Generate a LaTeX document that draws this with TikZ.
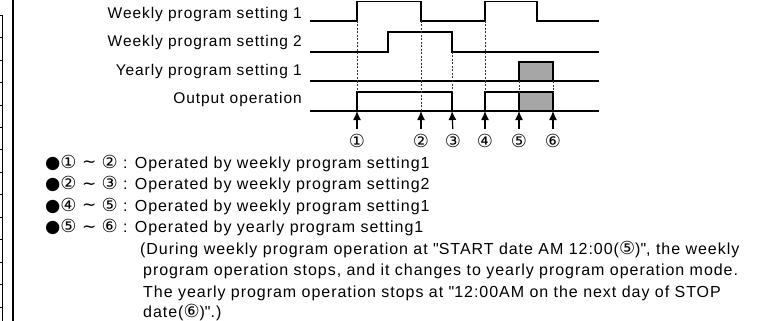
\documentclass[tikz,border=0pt]{standalone}
\usepackage{fontspec}
\setmainfont{Liberation Sans}[LetterSpace=6]
\newfontfamily\symfont{DejaVu Sans}
\usetikzlibrary{arrows.meta}

\newcommand{\cnum}[1]{{\symfont\fontsize{18}{18}\selectfont #1}}
\newcommand{\dotmark}{{\symfont\fontsize{17.5}{18}\selectfont ●}}
\newcommand{\wave}{\ {\symfont\fontsize{17}{18}\selectfont\raisebox{0.5pt}{∼}}\ }

\tikzset{
  sig/.style={line width=1.3pt, line join=miter},
  guide/.style={dash pattern=on 2pt off 1.5pt, line width=0.9pt, black!80},
  tickarrow/.style={-{Latex[length=9pt,width=8pt]}, line width=1.2pt, shorten <=5pt},
  txt/.style={font=\fontsize{15.5}{17}\selectfont, inner sep=0pt},
  note/.style={font=\fontsize{16}{17}\selectfont, inner sep=0pt, anchor=base west}
}

\begin{document}
\begin{tikzpicture}[x=1pt,y=-1pt]
  \useasboundingbox (0,0) rectangle (763,321);

  % left margin of the page
  \draw[line width=0.6pt] (2,15) -- (2,321);
  \foreach \y in {15,37,60,82,105,127,149,172,194,217,239,262,284,307}
    \draw[line width=0.6pt] (0,\y) -- (2,\y);
  \draw[line width=2pt] (13,0) -- (13,321);

  % signal names
  \begin{scope}[every node/.style={txt, anchor=base east}]
    \node (w1)  at (302,18.5) {Weekly program setting 1};
    \node (w2)  at (302,47)   {Weekly program setting 2};
    \node (y1)  at (302,75)   {Yearly program setting 1};
    \node (out) at (302,103)  {Output operation};
  \end{scope}

  % time points
  \coordinate (p1) at (357,111);
  \coordinate (p2) at (421,111);
  \coordinate (p3) at (452,111);
  \coordinate (p4) at (485,111);
  \coordinate (p5) at (519,111);
  \coordinate (p6) at (553,111);

  % shaded yearly parts
  \filldraw[sig, fill=black!35] (519,81) -- (519,62) -- (553,62) -- (553,81);
  \filldraw[sig, fill=black!35] (519,111) -- (519,92) -- (553,92) -- (553,111);

  % waveforms
  \draw[sig] (310,21) -- (357,21) -- (357,1.5) -- (421,1.5) -- (421,21) -- (485,21)
    -- (485,1.5) -- (537,1.5) -- (537,21) -- (599,21);
  \draw[sig] (310,52) -- (388,52) -- (388,32) -- (452,32) -- (452,52) -- (599,52);
  \draw[sig] (310,81) -- (599,81);
  \draw[sig] (310,111) -- (599,111);
  \draw[sig] (357,111) -- (357,92) -- (452,92) -- (452,111);
  \draw[sig] (485,111) -- (485,92) -- (519,92);

  % dotted guides
  \draw[guide] (357,21) -- (357,92);
  \draw[guide] (421,21) -- (p2);
  \draw[guide] (452,52) -- (452,92);
  \draw[guide] (485,21) -- (485,92);
  \draw[guide] (519,81) -- (519,92);
  \draw[guide] (553,81) -- (553,92);

  % numbered marks
  \begin{scope}[every node/.style={txt}]
    \node (c1) at (357,141) {\cnum{①}};
    \node (c2) at (421,141) {\cnum{②}};
    \node (c3) at (453,141) {\cnum{③}};
    \node (c4) at (485,141) {\cnum{④}};
    \node (c5) at (519,141) {\cnum{⑤}};
    \node (c6) at (553,141) {\cnum{⑥}};
  \end{scope}
  \foreach \i in {1,...,6}
    \draw[tickarrow] (c\i.north) -- (p\i);

  % notes
  \begin{scope}[every node/.style={note}]
    \node (n1) at (45,168)   {\dotmark\cnum{①}\wave\cnum{②} : Operated by weekly program setting1};
    \node (n2) at (45,189.5) {\dotmark\cnum{②}\wave\cnum{③} : Operated by weekly program setting2};
    \node (n3) at (45,211)   {\dotmark\cnum{④}\wave\cnum{⑤} : Operated by weekly program setting1};
    \node (n4) at (45,232.5) {\dotmark\cnum{⑤}\wave\cnum{⑥} : Operated by yearly program setting1};
    \node (n5) at (140,254)  {(During weekly program operation at \textquotedbl START date AM 12:00(\cnum{⑤})\textquotedbl, the weekly};
    \node (n6) at (143,275.5) {program operation stops, and it changes to yearly program operation mode.};
    \node (n7) at (143,297)   {The yearly program operation stops at \textquotedbl 12:00AM on the next day of STOP};
    \node (n8) at (143,317)   {date(\cnum{⑥})\textquotedbl.)};
  \end{scope}
\end{tikzpicture}
\end{document}
